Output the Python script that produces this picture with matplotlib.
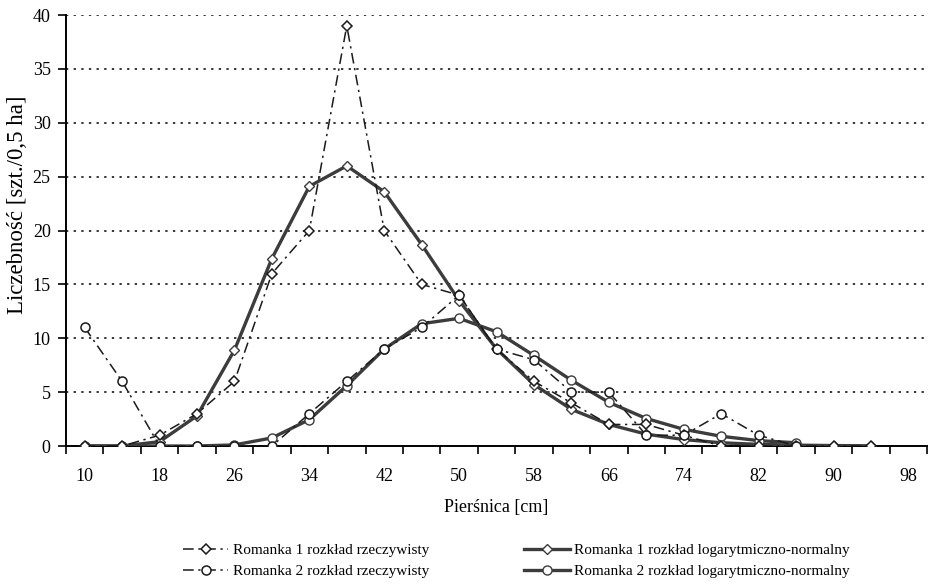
import numpy as np
import matplotlib
matplotlib.use('Agg')
import matplotlib.pyplot as plt

plt.rcParams['font.family'] = ['Liberation Serif', 'DejaVu Serif']

# pierśnica [cm]
x = [10, 14, 18, 22, 26, 30, 34, 38, 42, 46, 50, 54, 58, 62, 66, 70, 74, 78, 82, 86, 90, 94]
nan = np.nan

r1_rzecz = [0, 0, 1, 3, 6, 16, 20, 39, 20, 15, 14, 9, 6, 4, 2, 2, 1, 0, 0, 0, 0, 0]
r2_rzecz = [11, 6, 0, 0, 0, 0, 3, 6, 9, 11, 14, 9, 8, 5, 5, 1, 1, 3, 1, 0, nan, nan]
r1_logn = [0, 0, 0.4, 2.8, 8.9, 17.4, 24.1, 26.0, 23.6, 18.7, 13.5, 9.0, 5.7, 3.4, 2.0, 1.1,
           0.6, 0.3, 0.15, 0.08, 0.04, 0.02]
r2_logn = [0, 0, 0, 0, 0.1, 0.75, 2.45, 5.6, 9.0, 11.35, 11.85, 10.6, 8.4, 6.1, 4.05, 2.55,
           1.55, 0.9, 0.5, 0.3, nan, nan]

labels = ['Romanka 1 rozkład rzeczywisty', 'Romanka 2 rozkład rzeczywisty',
          'Romanka 1 rozkład logarytmiczno-normalny', 'Romanka 2 rozkład logarytmiczno-normalny']

fig = plt.figure(figsize=(9.29, 5.87), dpi=100)
ax = fig.add_axes([0.071, 0.2402, 0.927, 0.7342])

l1, = ax.plot(x, r1_rzecz, color='#1a1a1a', lw=1.1, ls=(0, (7, 3, 1.5, 3)),
              marker='D', ms=5.2, mfc='white', mec='#1a1a1a', mew=1.1, zorder=4)
l2, = ax.plot(x, r2_rzecz, color='#1a1a1a', lw=1.1, ls=(0, (7, 3, 1.5, 3)),
              marker='o', ms=6.5, mfc='white', mec='#1a1a1a', mew=1.1, zorder=4)
l3, = ax.plot(x, r1_logn, color='#3c3c3c', lw=2.4,
              marker='D', ms=5.2, mfc='white', mec='#3c3c3c', mew=1.0, zorder=3)
l4, = ax.plot(x, r2_logn, color='#3c3c3c', lw=2.4,
              marker='o', ms=6.5, mfc='white', mec='#3c3c3c', mew=1.0, zorder=3)

ax.set_xlim(8, 100)
ax.set_ylim(0, 40)
ax.set_yticks(np.arange(0, 41, 5))
ax.set_xticks(np.arange(10, 99, 8))
ax.set_xticks(np.arange(8, 101, 4), minor=True)
ax.tick_params(axis='x', which='major', length=0, pad=16, labelsize=13)
ax.tick_params(axis='x', which='minor', length=6, width=1.2, direction='out')
ax.tick_params(axis='y', length=6, width=1.2, direction='out', pad=5, labelsize=13)

ax.yaxis.grid(True, ls=(0, (1.5, 3.5)), color='black', lw=1.1)
ax.set_axisbelow(True)
for s in ['top', 'right']:
    ax.spines[s].set_visible(False)
for s in ['left', 'bottom']:
    ax.spines[s].set_linewidth(1.4)

ax.set_xlabel('Pierśnica [cm]', fontsize=13, labelpad=10)
ax.set_ylabel('Liczebność [szt./0,5 ha]', fontsize=16.5)
ax.yaxis.set_label_coords(-0.044, 0.56)

fig.legend([l1, l2, l3, l4], labels, ncol=2, loc='upper left',
           bbox_to_anchor=(0.19, 0.084), frameon=False, fontsize=11,
           handlelength=3.0, handletextpad=0.3, columnspacing=6.2, labelspacing=0.45,
           borderaxespad=0)

fig.savefig('out.png', dpi=100)
